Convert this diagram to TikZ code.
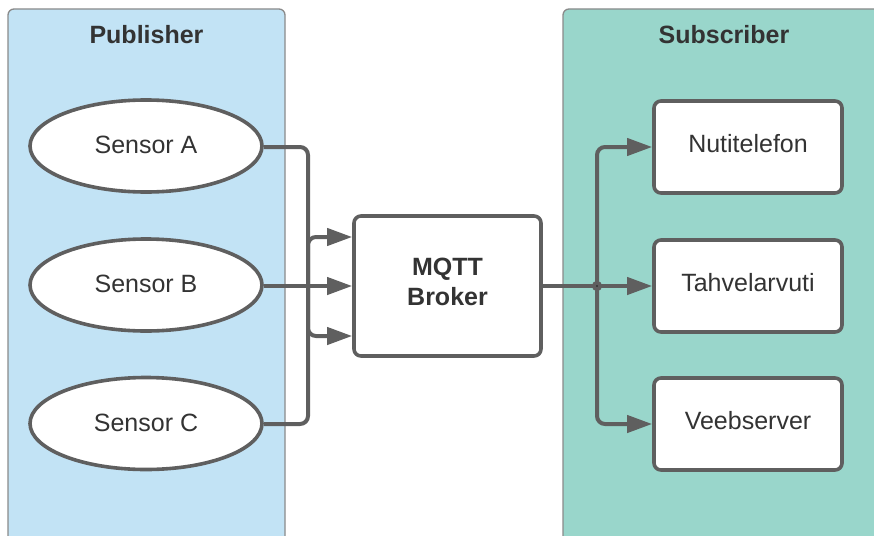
\documentclass[tikz,border=0pt]{standalone}
\usepackage{fontspec}
\setmainfont{Liberation Sans}
\usetikzlibrary{shapes.geometric,arrows.meta}
\definecolor{pubfill}{HTML}{C2E3F5}
\definecolor{subfill}{HTML}{99D6CB}
\definecolor{panelline}{HTML}{8A8A8A}
\definecolor{conn}{HTML}{5F5F5F}
\definecolor{txt}{HTML}{333333}
\tikzset{
  panel/.style={fill=#1, draw=panelline, line width=1.3pt, rounded corners=6pt},
  paneltitle/.style={text=txt, font=\fontsize{25}{30}\selectfont\bfseries},
  sensor/.style={ellipse, draw=conn, fill=white, line width=3.6pt, minimum width=232pt, minimum height=92pt, inner sep=0pt, text=txt, text depth=2pt, font=\fontsize{25}{30}\selectfont},
  device/.style={rectangle, rounded corners=7pt, draw=conn, fill=white, line width=3.6pt, minimum width=188pt, minimum height=92pt, inner sep=0pt, text=txt, text depth=8pt, font=\fontsize{25}{30}\selectfont},
  brokerbox/.style={rectangle, rounded corners=7pt, draw=conn, fill=white, line width=3.6pt, minimum width=187pt, minimum height=140pt, inner sep=0pt},
  brokertext/.style={text=txt, align=center, inner sep=0pt, font=\fontsize{25}{30}\selectfont\bfseries},
  conn/.style={draw=conn, line width=4pt, rounded corners=8pt, -{Triangle[length=25pt,width=17pt]}},
  connplain/.style={draw=conn, line width=4pt},
}
\begin{document}
\begin{tikzpicture}[x=1pt,y=-1pt]
\useasboundingbox (0,0) rectangle (874,535);
% panels
\path[panel=pubfill] (8,545) -- (8,9) -- (285,9) -- (285,545);
\path[panel=subfill] (563,545) -- (563,9) -- (884,9) -- (884,545);
\node[paneltitle] (pubt) at (146.5,35) {Publisher};
\node[paneltitle] (subt) at (724,35) {Subscriber};
% nodes
\node[sensor] (sa) at (146,146) {Sensor A};
\node[sensor] (sb) at (146,285) {Sensor B};
\node[sensor] (sc) at (146,423.5) {Sensor C};
\node[brokerbox] (broker) at (447.5,286) {};
\node[brokertext] (brokerlbl) at (447.5,282) {MQTT\\Broker};
\node[device] (nut) at (748,147) {Nutitelefon};
\node[device] (tah) at (748,286) {Tahvelarvuti};
\node[device] (veb) at (748,424) {Veebserver};
% coordinates
\coordinate (ja) at (308,147);
\coordinate (jc) at (308,424);
\coordinate (j) at (597,286);
% connectors
\draw[conn] (sa.east |- ja) -- (ja) |- ([yshift=-50pt]broker.west);
\draw[conn] (sb.east |- broker.west) -- (broker.west);
\draw[conn] (sc.east |- jc) -- (jc) |- ([yshift=49pt]broker.west);
\draw[connplain] (broker.east) -- (j);
\draw[conn] (j) |- (nut.west);
\draw[conn] (j) -- (tah.west);
\draw[conn] (j) |- (veb.west);
\fill[conn] (j) circle (3pt);
\end{tikzpicture}
\end{document}
